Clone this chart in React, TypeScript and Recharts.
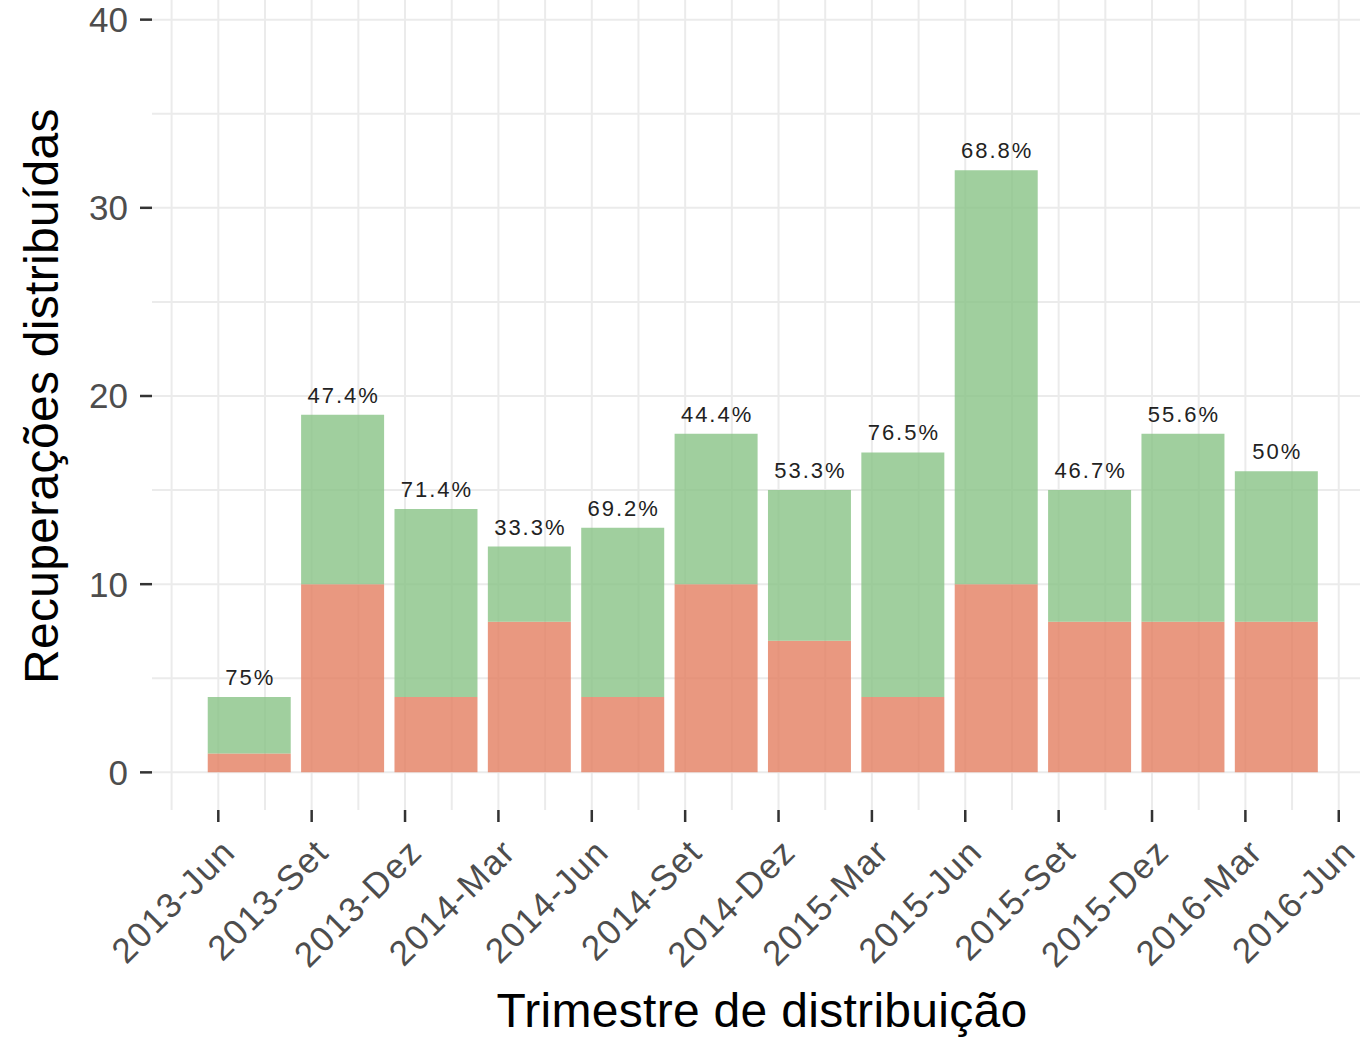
import React from "react";
import { BarChart, Bar, XAxis, YAxis, CartesianGrid, LabelList } from "recharts";

// months counted from 2013-Jun (bars sit on the first day of each quarter)
const barMonths = [1, 4, 7, 10, 13, 16, 19, 22, 25, 28, 31, 34];
const lowerCounts = [1, 10, 4, 8, 4, 10, 7, 4, 10, 8, 8, 8];
const upperCounts = [3, 9, 10, 4, 9, 8, 8, 13, 22, 7, 10, 8];
const pctLabels = ["75%", "47.4%", "71.4%", "33.3%", "69.2%", "44.4%", "53.3%", "76.5%", "68.8%", "46.7%", "55.6%", "50%"];

const tickMonths = [0, 3, 6, 9, 12, 15, 18, 21, 24, 27, 30, 33, 36];
const tickLabels = [
  "2013-Jun", "2013-Set", "2013-Dez", "2014-Mar", "2014-Jun", "2014-Set", "2014-Dez",
  "2015-Mar", "2015-Jun", "2015-Set", "2015-Dez", "2016-Mar", "2016-Jun",
];
const minorMonths = [-1.5, 1.5, 4.5, 7.5, 10.5, 13.5, 16.5, 19.5, 22.5, 25.5, 28.5, 31.5, 34.5];
const yTicks = [0, 10, 20, 30, 40];
const yGrid = [0, 5, 10, 15, 20, 25, 30, 35, 40];

const FONT = "'Liberation Sans', Arial, Helvetica, sans-serif";
const LOWER = "#e47e60";
const UPPER = "#88c386";

const rows = barMonths.map((m, i) => ({
  month: m,
  lower: lowerCounts[i],
  upper: upperCounts[i],
  pct: pctLabels[i],
}));

function XTick(props: any) {
  const { x, y, payload } = props;
  const idx = tickMonths.indexOf(payload.value);
  return (
    <g transform={`translate(${x + 19},${y + 32})`}>
      <text
        transform="rotate(-45)"
        textAnchor="end"
        fontSize={35}
        letterSpacing={1.4}
        fill="#4d4d4d"
        fontFamily={FONT}
      >
        {tickLabels[idx]}
      </text>
    </g>
  );
}

function PctLabel(props: any) {
  const { x, y, width, value } = props;
  return (
    <text
      x={x + width / 2 + 1}
      y={y - 12}
      textAnchor="middle"
      fontSize={22}
      letterSpacing={2}
      fill="#222"
      fontFamily={FONT}
    >
      {value}
    </text>
  );
}

export default function App() {
  return (
    <div style={{ position: "absolute", left: 0, top: 0, width: 1360, height: 1041, overflow: "hidden", background: "#fff", fontFamily: FONT }}>
      <div style={{ position: "absolute", left: 0, top: -18 }}>
        <BarChart width={1400} height={1059} data={rows} margin={{ top: 0, right: 27, bottom: 0, left: 0 }}>
          <CartesianGrid
            stroke="#ebebeb"
            strokeWidth={2}
            verticalValues={[...tickMonths, ...minorMonths]}
            horizontalValues={yGrid}
          />
          <XAxis
            dataKey="month"
            type="number"
            domain={[-2.13, 37.1]}
            allowDataOverflow
            ticks={tickMonths}
            interval={0}
            axisLine={false}
            tickSize={12}
            tickMargin={0}
            tickLine={{ stroke: "#333", strokeWidth: 2.5 }}
            tick={<XTick />}
            height={231}
            label={{
              content: () => (
                <text x={762} y={1045} textAnchor="middle" fontSize={48} letterSpacing={0.3} fill="#000" fontFamily={FONT}>
                  Trimestre de distribuição
                </text>
              ),
            }}
          />
          <YAxis
            type="number"
            domain={[-2, 42]}
            allowDataOverflow
            ticks={yTicks}
            interval={0}
            width={152}
            axisLine={false}
            tickSize={12}
            tickMargin={12}
            tickLine={{ stroke: "#333", strokeWidth: 2.5 }}
            tick={{ fontSize: 35, fill: "#4d4d4d", fontFamily: FONT }}
            label={{
              content: () => (
                <text
                  x={58}
                  y={414}
                  transform="rotate(-90 58 414)"
                  textAnchor="middle"
                  fontSize={48}
                  letterSpacing={0.3}
                  fill="#000"
                  fontFamily={FONT}
                >
                  Recuperações distribuídas
                </text>
              ),
            }}
          />
          <Bar dataKey="lower" stackId="s" fill={LOWER} fillOpacity={0.8} barSize={83} isAnimationActive={false} />
          <Bar dataKey="upper" stackId="s" fill={UPPER} fillOpacity={0.8} barSize={83} isAnimationActive={false}>
            <LabelList dataKey="pct" content={<PctLabel />} />
          </Bar>
        </BarChart>
      </div>
    </div>
  );
}
